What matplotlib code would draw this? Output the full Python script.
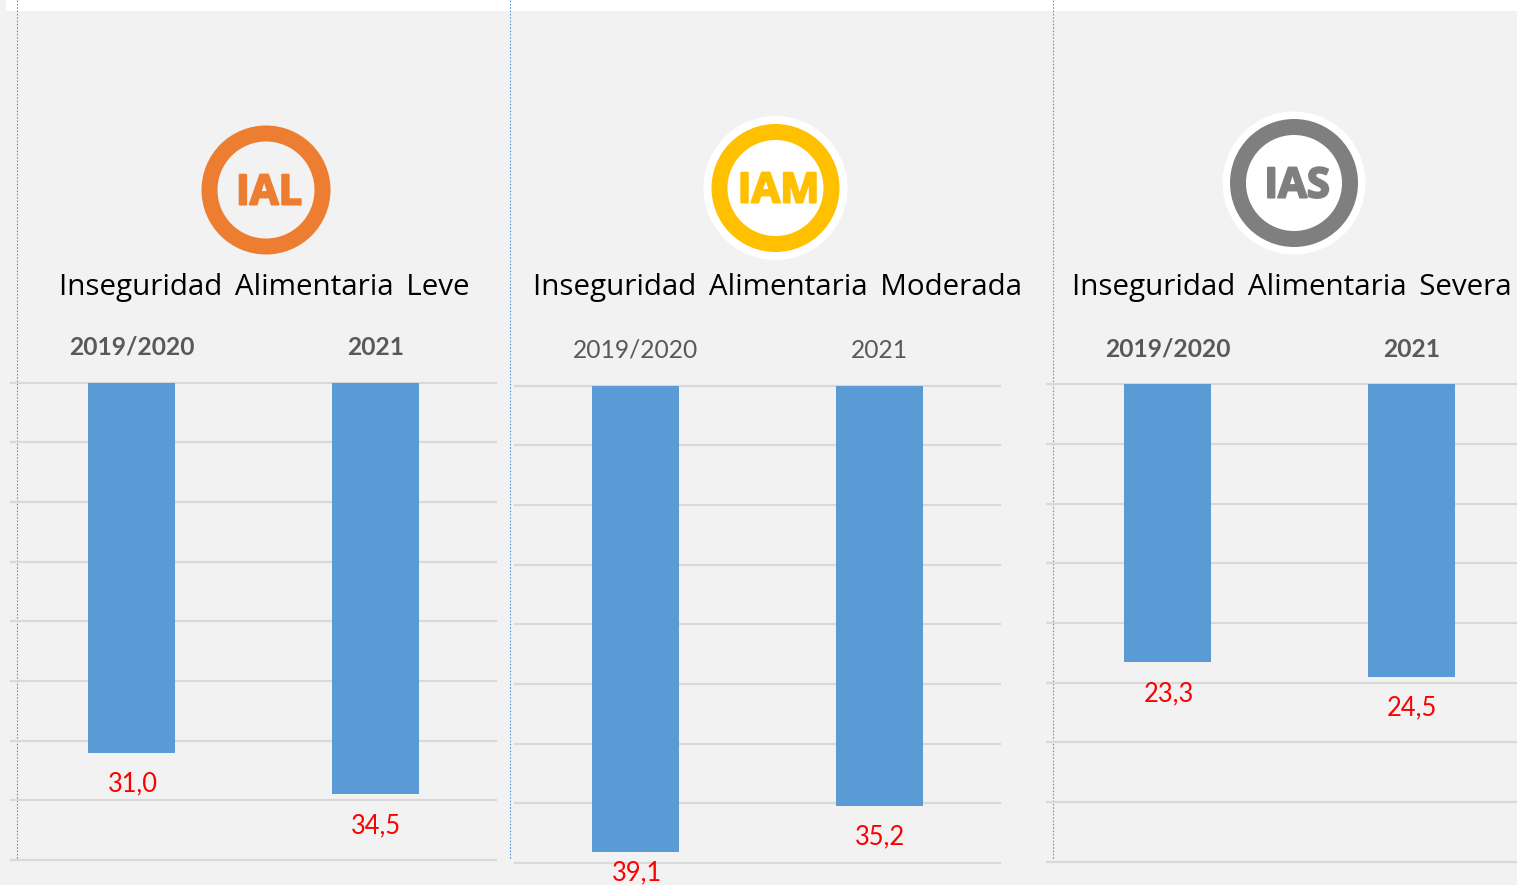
import matplotlib
matplotlib.use('Agg')
import matplotlib.pyplot as plt
import matplotlib.patheffects as pe
from matplotlib.patches import Circle, Rectangle

W, H = 1517, 885

# dados
anos = ['2019/2020', '2021']
leve = [31.0, 34.5]
moderada = [39.1, 35.2]
severa = [23.3, 24.5]
titulos = ['Inseguridad\u2009 Alimentaria\u2009 Leve', 'Inseguridad\u2009 Alimentaria\u2009 Moderada',
           'Inseguridad\u2009 Alimentaria\u2009 Severa']
siglas = ['IAL', 'IAM', 'IAS']
grade = [0, 5, 10, 15, 20, 25, 30, 35, 40]

plt.rcParams['font.family'] = ['Open Sans', 'DejaVu Sans']
cinza_fundo = '#f2f2f2'
azul = '#5b9bd5'
cinza_grade = '#d9d9d9'

fig = plt.figure(figsize=(W / 100, H / 100), dpi=100, facecolor=cinza_fundo)


def eixo_px(x0, y0, x1, y1):
    # posicao do eixo em pixels da imagem (origem no topo)
    return fig.add_axes([x0 / W, 1 - y1 / H, (x1 - x0) / W, (y1 - y0) / H])


# camada de fundo com os icones e as linhas pontilhadas
fundo = eixo_px(0, 0, W, H)
fundo.set_xlim(0, W)
fundo.set_ylim(H, 0)
fundo.axis('off')
fundo.add_patch(Rectangle((6, 0), W - 6, 11, color='white', lw=0))
fundo.plot([17.5, 17.5], [0, 860], color='#6f8fa8', lw=0.8, ls=(0, (1.5, 1.5)))
fundo.plot([510.5, 510.5], [0, 860], color='#5b9bd5', lw=0.8, ls=(0, (1.5, 1.5)))
fundo.plot([1053.5, 1053.5], [0, 860], color='#5b9bd5', lw=0.8, ls=(0, (1.5, 1.5)))

icones = [
    (266, 190, 64.5, '#ed7d31', None, cinza_fundo),
    (775.5, 188, 64, '#ffc000', 72, 'white'),
    (1294, 183, 64, '#7f7f7f', 71.5, 'white'),
]
for (cx, cy, r, cor, halo, miolo), sigla in zip(icones, siglas):
    if halo:
        fundo.add_patch(Circle((cx, cy), halo, color='white', lw=0))
    fundo.add_patch(Circle((cx, cy), r, color=cor, lw=0))
    fundo.add_patch(Circle((cx, cy), r - 16, color=miolo, lw=0))
    fundo.text(cx + 3, cy + 4, sigla, color=cor, fontsize=30, fontweight='bold',
               family='Open Sans', ha='center', va='center',
               path_effects=[pe.withStroke(linewidth=1.5, foreground=cor)])

titulo_pos = [(264, 288), (777.5, 287), (1291.5, 288)]
for (tx, ty), t in zip(titulo_pos, titulos):
    fundo.text(tx, ty, t, color='black', fontsize=21.3, ha='center', va='center', family='Open Sans')

# paineis de barras
paineis = [
    (leve, 10, 382.5, 860, 'bold'),
    (moderada, 514, 385.5, 863, 'normal'),
    (severa, 1046, 384.5, 861.5, 'bold'),
]
for valores, x0, y0, y1, peso in paineis:
    ax = eixo_px(x0, y0, x0 + 487, y1)
    ax.patch.set_alpha(0)
    pos = range(len(anos))
    barras = ax.bar(pos, valores, width=0.357, color=azul, zorder=3)
    ax.set_xlim(-0.5, 1.5)
    ax.set_ylim(40, 0)
    ax.set_yticks(grade)
    ax.set_yticklabels([])
    ax.grid(axis='y', color=cinza_grade, lw=1.6, clip_on=False, solid_capstyle='butt')
    ax.set_axisbelow(True)
    ax.set_xticks(list(pos))
    ax.set_xticklabels(anos, fontsize=17.7, color='#595959', fontweight=peso, family='Lato')
    ax.xaxis.tick_top()
    ax.tick_params(length=0, pad=17)
    for s in ax.spines.values():
        s.set_visible(False)
    for b, v in zip(barras, valores):
        # rotulo fica mais perto da barra quando encosta no fim do eixo
        desloc = 14.5 if v > 38 else 22.5
        ax.annotate(f'{v:.1f}'.replace('.', ','), (b.get_x() + b.get_width() / 2, v),
                    xytext=(0.5, -desloc), textcoords='offset points', ha='center', va='center',
                    color='#ff0000', fontsize=18.4, family='Lato', annotation_clip=False)

fig.savefig('out.png', dpi=100, facecolor=fig.get_facecolor())
